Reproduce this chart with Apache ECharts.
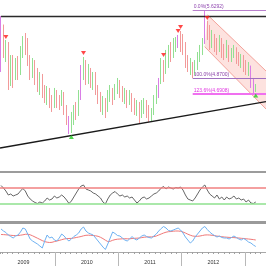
<!DOCTYPE html>
<html><head><meta charset="utf-8">
<script src="https://cdn.jsdelivr.net/npm/echarts@6/dist/echarts.min.js"></script>
<style>html,body{margin:0;padding:0;background:#fff}#c{width:266px;height:266px}</style>
</head><body><div id="c"></div>
<script>
// ---- data ----
const axisStart = '2009-02-17', axisEnd = '2013-05-02';
const firstBar = '2009-02-23', barStepDays = 14;
// [open, close, low, high]
const candles = [
[5.016,5.498,4.938,5.566],[5.465,5.185,5.095,5.470],[5.128,5.274,5.050,5.297],[5.241,4.826,4.736,5.274],
[4.826,5.050,4.781,5.128],[5.050,4.848,4.759,5.128],[4.871,5.028,4.848,5.095],[5.028,4.916,4.848,5.117],
[4.938,5.162,4.904,5.229],[5.162,5.297,5.095,5.341],[5.297,5.207,5.128,5.375],[5.207,5.050,5.005,5.319],
[5.050,4.938,4.848,5.128],[4.938,5.050,4.871,5.095],[5.050,4.871,4.792,5.072],[4.871,4.803,4.714,4.983],
[4.803,4.893,4.680,4.938],[4.893,4.714,4.646,4.916],[4.714,4.669,4.590,4.792],[4.669,4.736,4.568,4.781],
[4.736,4.602,4.534,4.759],[4.602,4.557,4.490,4.680],[4.557,4.714,4.534,4.759],[4.714,4.624,4.534,4.736],
[4.624,4.579,4.512,4.680],[4.579,4.691,4.557,4.736],[4.691,4.534,4.456,4.714],[4.534,4.400,4.344,4.568],
[4.400,4.310,4.243,4.445],[4.310,4.445,4.254,4.490],[4.445,4.512,4.344,4.568],[4.512,4.467,4.400,4.602],
[4.467,4.646,4.445,4.736],[4.646,4.960,4.624,5.016],[4.960,5.050,4.848,5.106],[5.050,4.893,4.792,5.072],
[4.893,4.960,4.803,5.028],[4.960,4.848,4.759,4.983],[4.848,4.916,4.736,4.938],[4.916,4.759,4.680,4.938],
[4.759,4.669,4.579,4.792],[4.669,4.579,4.490,4.714],[4.579,4.624,4.456,4.669],[4.624,4.512,4.422,4.646],
[4.512,4.669,4.490,4.736],[4.669,4.736,4.602,4.792],[4.736,4.646,4.568,4.759],[4.646,4.759,4.624,4.803],
[4.759,4.826,4.691,4.871],[4.826,4.736,4.646,4.848],[4.736,4.669,4.602,4.781],[4.669,4.714,4.579,4.759],
[4.714,4.602,4.534,4.736],[4.602,4.691,4.568,4.736],[4.691,4.579,4.490,4.702],[4.579,4.534,4.456,4.646],
[4.534,4.579,4.445,4.624],[4.579,4.445,4.366,4.602],[4.445,4.557,4.422,4.624],[4.557,4.602,4.467,4.646],
[4.602,4.490,4.422,4.624],[4.490,4.445,4.378,4.568],[4.445,4.512,4.378,4.534],[4.512,4.624,4.456,4.680],
[4.624,4.714,4.579,4.792],[4.714,4.848,4.646,4.871],[4.848,5.050,4.803,5.095],[5.050,4.938,4.826,5.072],
[4.938,5.095,4.916,5.185],[5.095,5.162,4.983,5.241],[5.162,5.117,5.050,5.274],[5.117,5.252,5.095,5.319],
[5.252,5.297,5.162,5.330],[5.274,5.330,5.207,5.353],[5.330,5.297,5.162,5.398],[5.297,5.207,5.128,5.364],
[5.207,5.050,4.983,5.274],[5.050,4.983,4.938,5.128],[4.983,5.028,4.904,5.095],[5.028,4.938,4.870,5.050],
[4.938,5.005,4.904,5.072],[5.005,5.095,4.960,5.162],[5.095,5.185,5.050,5.241],[5.185,5.274,5.128,5.319],
[5.274,5.566,5.252,5.6292],[5.476,5.386,5.297,5.510],[5.386,5.274,5.185,5.465],[5.274,5.341,5.207,5.409],
[5.341,5.229,5.162,5.364],[5.229,5.185,5.128,5.319],[5.185,5.297,5.162,5.353],[5.297,5.162,5.095,5.319],
[5.162,5.117,5.072,5.252],[5.117,5.229,5.095,5.297],[5.229,5.117,5.050,5.241],[5.117,5.162,5.050,5.207],
[5.162,5.207,5.095,5.241],[5.207,5.095,5.028,5.215],[5.095,5.072,5.005,5.162],[5.072,5.117,4.983,5.140],
[5.117,5.005,4.938,5.128],[5.005,4.983,4.904,5.072],[4.983,5.028,4.893,5.050],[5.005,4.826,4.759,5.010],
[4.826,4.736,4.702,4.871],[4.725,4.781,4.714,4.803]
];
const purpleBars = [0, 28, 33, 65, 73, 84, 103, 104];
const rsi = [76.25,70,62.5,52.5,55,50,52.5,55,62.5,68.75,
62.5,50,42.5,37.5,33.75,31.25,35,32.5,37.5,45,
40,42.5,50,45,47.5,52.5,47.5,40,31.25,37.5,
47.5,57.5,67.5,75,77.5,67.5,65,62.5,57.5,55,
50,45,35,30,42.5,52.5,57.5,61.25,55,50,
52.5,47.5,50,45,47.5,40,32.5,37.5,45,47.5,
42.5,45,50,55,57.5,62.5,70,73.75,67.5,72.5,
70,67.5,71.25,70,72.5,65,52.5,42.5,40,37.5,
45,55,65,72.5,77.5,65,55,50,45,52.5,
42.5,47.5,40,47.5,42.5,45,50,42.5,45,40,
42.5,35,40,32.5,31.25,35];
const rsiLevels = [70, 30];
const macd = [0.08,0.06,0.045,0.02,0.005,-0.01,0.01,0.02,0.05,0.09,
0.08,0.03,-0.02,-0.04,-0.055,-0.07,-0.09,-0.11,-0.04,0.02,
-0.01,0,-0.03,-0.04,-0.01,0.03,0.01,-0.02,-0.04,-0.02,
0.005,0.02,0.04,0.08,0.10,0.06,0.04,0.03,0.02,-0.01,
-0.04,-0.07,-0.10,-0.125,-0.07,-0.01,0.05,0.035,0.015,0.01,
-0.01,-0.03,-0.04,-0.02,0.005,-0.02,-0.03,-0.01,0.01,0.02,
0.005,-0.005,-0.01,0.01,0.03,0.06,0.085,0.105,0.09,0.065,
0.06,0.07,0.08,0.09,0.07,0.04,0,-0.03,-0.06,-0.04,
0,0.03,0.06,0.09,0.105,0.075,0.05,0.03,0.015,0,
0.01,-0.005,-0.01,-0.01,-0.02,-0.005,0.01,-0.005,-0.02,-0.03,
-0.015,-0.03,-0.05,-0.06,-0.08,-0.095];
const signal = [0.025,0.024,0.022,0.02,0.017,0.015,0.014,0.015,0.018,0.022,
0.027,0.028,0.022,0.012,0,-0.012,-0.024,-0.036,-0.046,-0.052,
-0.055,-0.053,-0.046,-0.04,-0.034,-0.027,-0.02,-0.016,-0.015,-0.014,
-0.01,-0.005,0,0.005,0.012,0.017,0.018,0.017,0.015,0.012,
0.007,-0.003,-0.016,-0.032,-0.045,-0.043,-0.033,-0.026,-0.022,-0.02,
-0.018,-0.017,-0.018,-0.018,-0.015,-0.013,-0.012,-0.01,-0.006,-0.002,
0,0.001,0.001,0.004,0.01,0.02,0.03,0.04,0.048,0.053,
0.055,0.058,0.06,0.06,0.057,0.05,0.04,0.028,0.018,0.01,
0.007,0.007,0.01,0.015,0.02,0.021,0.02,0.017,0.013,0.009,
0.006,0.003,0,-0.002,-0.004,-0.005,-0.006,-0.008,-0.01,-0.013,
-0.015,-0.018,-0.02,-0.023,-0.026,-0.03];
const sellIdx = [2, 34, 67, 73, 74, 85];
const sellPrice = [5.330, 5.151, 5.128, 5.398, 5.442, 5.543];
const buyIdx = [29, 105];
const buyPrice = [4.209, 4.675];
const resistanceStart = '2009-02-23', resistanceValue = 5.566;
const trendDates = ['2009-02-17', '2013-05-02'], trendValues = [4.086, 4.607];
const fibStart = '2012-03-05';
const fibNames = ['0.0%', '100.0%', '123.6%'];
const fibValues = [5.6292, 4.8700, 4.6908];
const channelDates = ['2012-05-30', '2013-05-02', '2013-05-02', '2012-05-13'];
const channelPrices = [5.577, 4.949, 4.523, 5.222];
const yearLabels = ['2009', '2010', '2011', '2012', '2013'];
const priceRange = [3.817, 5.745];

// ---- build ----
const t = s => { const p = s.split('-').map(Number); return new Date(p[0], p[1] - 1, p[2]).getTime(); };
const fb = firstBar.split('-').map(Number);
const times = candles.map((_, i) => new Date(fb[0], fb[1] - 1, fb[2] + barStepDays * i).getTime());
const tMin = t(axisStart), tMax = t(axisEnd);
const W = 266;
const span = tMax - tMin;
const yearGridLeft = (t(yearLabels[0] + '-01-01') - tMin) / span * W;
const yearGridWidth = (t((+yearLabels[yearLabels.length - 1] + 1) + '-01-01') - t(yearLabels[0] + '-01-01')) / span * W;

const UP = '#92e092', DOWN = '#f29a9a', PURPLE = '#d97ee6';
const candleData = candles.map((c, i) => {
  const item = { value: [times[i], c[0], c[1], c[2], c[3]] };
  if (purpleBars.includes(i)) item.itemStyle = { color: PURPLE, color0: PURPLE, borderColor: PURPLE, borderColor0: PURPLE };
  return item;
});
const fibColors = ['#b880cc', '#a070c0', '#f070f0'];
const fibText = ['#9048b0', '#8a42a8', '#e038e0'];
const fibWidth = [1, 1, 2];
const markData = [
  [{ coord: [t(resistanceStart), resistanceValue], lineStyle: { color: '#2a2a2a', width: 1.3, type: 'solid' }, label: { show: false } },
   { coord: [tMax, resistanceValue] }],
  [{ coord: [t(trendDates[0]), trendValues[0]], lineStyle: { color: '#1a1a1a', width: 1.3, type: 'solid' }, label: { show: false } },
   { coord: [t(trendDates[1]), trendValues[1]] }]
];
fibValues.forEach((v, k) => {
  markData.push([
    { coord: [t(fibStart), v], lineStyle: { color: fibColors[k], width: fibWidth[k], type: 'solid' },
      label: { show: true, position: 'insideStartTop', distance: 1, formatter: fibNames[k] + '(' + v.toFixed(4) + ')',
               fontSize: 5, fontFamily: 'Liberation Sans', color: fibText[k] } },
    { coord: [tMax, v] }
  ]);
});

const chart = echarts.init(document.getElementById('c'), null, { renderer: 'canvas', width: 266, height: 266 });
const noAxis = { show: false };
chart.setOption({
  animation: false,
  backgroundColor: '#ffffff',
  grid: [
    { left: 0, right: 0, top: 0, height: 172, containLabel: false, outerBoundsMode: 'none' },
    { left: 0, right: 0, top: 176, height: 40, containLabel: false, outerBoundsMode: 'none' },
    { left: 0, right: 0, top: 222, height: 30, containLabel: false, outerBoundsMode: 'none' },
    { left: yearGridLeft, width: yearGridWidth, top: 240, height: 12, containLabel: false, outerBoundsMode: 'none' }
  ],
  xAxis: [
    { type: 'time', gridIndex: 0, min: tMin, max: tMax, axisLine: { show: true, onZero: false, lineStyle: { color: '#9c9c9c', width: 2 } },
      axisTick: noAxis, axisLabel: noAxis, splitLine: noAxis },
    { type: 'time', gridIndex: 1, min: tMin, max: tMax, show: false },
    { type: 'time', gridIndex: 2, min: tMin, max: tMax, position: 'bottom',
      minInterval: 28 * 864e5, maxInterval: 31 * 864e5,
      axisLine: { show: true, onZero: false, lineStyle: { color: '#a8a8a8', width: 1 } },
      axisTick: { show: true, length: 2, lineStyle: { color: '#a0a0a0' } }, axisLabel: noAxis, splitLine: noAxis },
    { type: 'time', gridIndex: 2, min: tMin, max: tMax, position: 'top',
      axisLine: { show: true, onZero: false, lineStyle: { color: '#9a9a9a', width: 3 } },
      axisTick: noAxis, axisLabel: noAxis, splitLine: noAxis },
    { type: 'category', gridIndex: 3, data: yearLabels, boundaryGap: true, position: 'bottom',
      axisLine: noAxis,
      axisTick: { show: true, interval: 0, length: 14, lineStyle: { color: '#b8b8b8' } },
      axisLabel: { show: true, interval: 0, margin: 8.5, fontSize: 5.3, fontFamily: 'Liberation Sans', color: '#333' },
      splitLine: noAxis }
  ],
  yAxis: [
    { type: 'value', gridIndex: 0, min: priceRange[0], max: priceRange[1], show: false },
    { type: 'value', gridIndex: 1, min: 0, max: 100, show: false },
    { type: 'value', gridIndex: 2, min: -0.15, max: 0.15, show: false },
    { type: 'value', gridIndex: 3, show: false }
  ],
  series: [
    {
      type: 'custom', xAxisIndex: 0, yAxisIndex: 0, z: 1, silent: true, clip: true,
      data: [[t(channelDates[0]), channelPrices[0]]],
      renderItem: (params, api) => {
        const pts = channelDates.map((d, k) => api.coord([t(d), channelPrices[k]]));
        return { type: 'group', children: [
          { type: 'polygon', shape: { points: pts }, style: { fill: 'rgba(248,160,150,0.30)' } },
          { type: 'polyline', shape: { points: [pts[0], pts[1]] }, style: { stroke: '#f3a39b', lineWidth: 1, fill: null } },
          { type: 'polyline', shape: { points: [pts[3], pts[2]] }, style: { stroke: '#f3a39b', lineWidth: 1, fill: null } }
        ] };
      }
    },
    {
      type: 'candlestick', xAxisIndex: 0, yAxisIndex: 0, z: 3, barWidth: 1.3,
      itemStyle: { color: UP, color0: DOWN, borderColor: UP, borderColor0: DOWN, borderWidth: 1 },
      data: candleData,
      markLine: { silent: true, symbol: ['none', 'none'], animation: false, label: { show: false }, data: markData }
    },
    {
      type: 'scatter', xAxisIndex: 0, yAxisIndex: 0, z: 5, symbol: 'triangle', symbolRotate: 180, symbolSize: [5, 4],
      itemStyle: { color: '#ff1a1a' }, silent: true,
      data: sellIdx.map((idx, k) => [times[idx], sellPrice[k]])
    },
    {
      type: 'scatter', xAxisIndex: 0, yAxisIndex: 0, z: 5, symbol: 'triangle', symbolSize: [5, 4],
      itemStyle: { color: '#22cc22' }, silent: true,
      data: buyIdx.map((idx, k) => [times[idx], buyPrice[k]])
    },
    {
      type: 'line', xAxisIndex: 1, yAxisIndex: 1, symbol: 'none', z: 3,
      lineStyle: { color: '#555555', width: 0.9 },
      data: rsi.map((v, i) => [times[i], v]),
      markLine: { silent: true, symbol: ['none', 'none'], label: { show: false },
        data: [{ yAxis: rsiLevels[0], lineStyle: { color: '#f08080', width: 1.5, type: 'solid' } },
               { yAxis: rsiLevels[1], lineStyle: { color: '#8ee08e', width: 1.5, type: 'solid' } }] }
    },
    {
      type: 'line', xAxisIndex: 2, yAxisIndex: 2, symbol: 'none', z: 3,
      lineStyle: { color: '#f07878', width: 1 },
      data: signal.map((v, i) => [times[i], v])
    },
    {
      type: 'line', xAxisIndex: 2, yAxisIndex: 2, symbol: 'none', z: 4,
      lineStyle: { color: '#6fb2f2', width: 1 },
      data: macd.map((v, i) => [times[i], v])
    }
  ]
});
</script></body></html>
